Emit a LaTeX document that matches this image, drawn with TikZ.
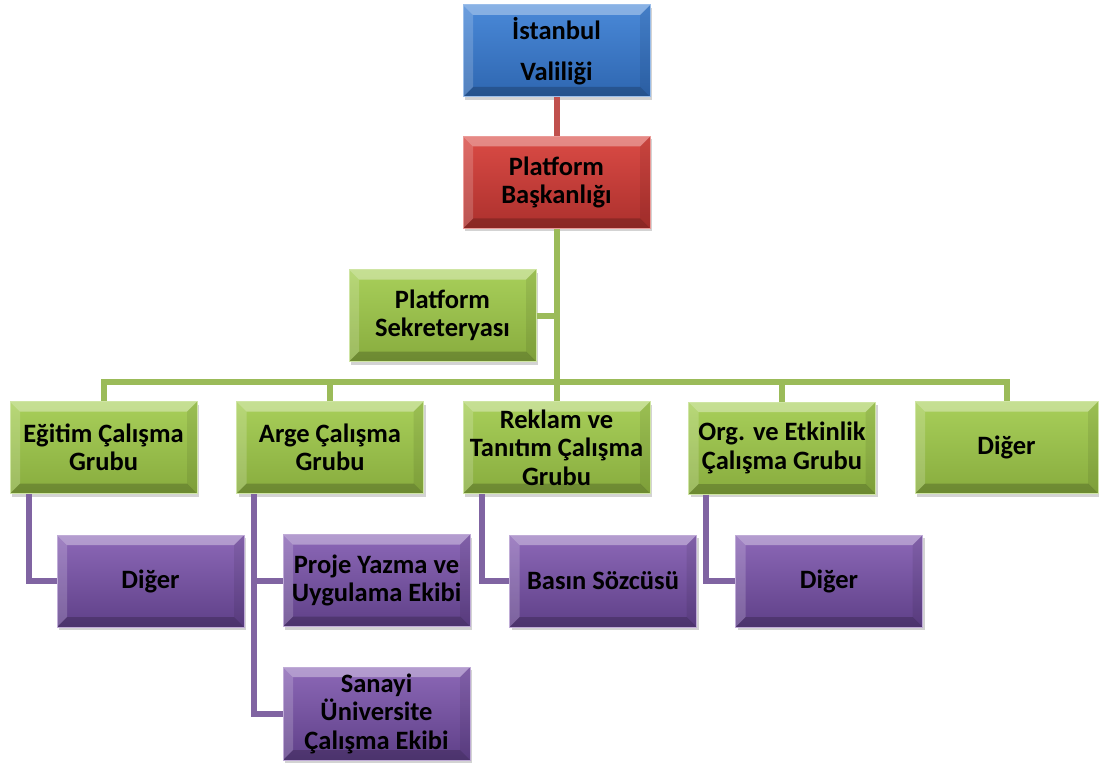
\documentclass[tikz,border=0pt]{standalone}
\usepackage{fontspec}
\setmainfont{Carlito}
\usetikzlibrary{calc,shadows}
\definecolor{blueT}{HTML}{4A89D8}
\definecolor{blueB}{HTML}{2E66B0}
\definecolor{redT}{HTML}{DA4B45}
\definecolor{redB}{HTML}{AC302D}
\definecolor{greenT}{HTML}{A8CF5A}
\definecolor{greenB}{HTML}{88AC3E}
\definecolor{purpleT}{HTML}{8C68B7}
\definecolor{purpleB}{HTML}{5F4088}
\definecolor{redline}{HTML}{C0504D}
\definecolor{greenline}{HTML}{9BBB59}
\definecolor{purpleline}{HTML}{8064A2}
\tikzset{
  bevel/.style={path picture={
      \coordinate (bnw) at (path picture bounding box.north west);
      \coordinate (bne) at (path picture bounding box.north east);
      \coordinate (bsw) at (path picture bounding box.south west);
      \coordinate (bse) at (path picture bounding box.south east);
      \coordinate (inw) at ($(bnw)+(10,10)$);
      \coordinate (ine) at ($(bne)+(-10,10)$);
      \coordinate (isw) at ($(bsw)+(10,-10)$);
      \coordinate (ise) at ($(bse)+(-10,-10)$);
      \fill[white,opacity=.35] (bnw) -- (bne) -- (ine) -- (inw) -- cycle;
      \fill[white,opacity=.18] (bnw) -- (inw) -- (isw) -- (bsw) -- cycle;
      \fill[black,opacity=.08] (bne) -- (ine) -- (ise) -- (bse) -- cycle;
      \fill[black,opacity=.20] (bsw) -- (isw) -- (ise) -- (bse) -- cycle;
    }},
  orgbox/.style={rectangle, minimum width=187pt, minimum height=92pt, inner sep=2pt,
    align=center, text=black, font=\bfseries\fontsize{26.5}{28.5}\selectfont,
    draw=#1T!55!white, line width=1pt, top color=#1T, bottom color=#1B,
    drop shadow={shadow xshift=2pt,shadow yshift=-3pt,opacity=.35}, bevel},
  link/.style={line width=6pt, draw=#1},
}
\begin{document}
\begin{tikzpicture}[x=1pt,y=-1pt]
  \useasboundingbox (0,0) rectangle (1099,767);
  \coordinate (bus) at (556.5,382);
  % boxes
  \node[orgbox=blue] (val) at (556.5,51) {İstanbul\\[12pt]Valiliği};
  \node[orgbox=red] (bask) at (556.5,182.5) {Platform\\Başkanlığı};
  \node[orgbox=green] (sek) at (442.5,315.5) {Platform\\Sekreteryası};
  \node[orgbox=green] (egitim) at (103.5,447.5) {Eğitim Çalışma\\Grubu};
  \node[orgbox=green] (arge) at (330,447.5) {Arge Çalışma\\Grubu};
  \node[orgbox=green] (reklam) at (556.5,447.5) {Reklam ve\\Tanıtım Çalışma\\Grubu};
  \node[orgbox=green] (org) at (782,448) {Org. ve Etkinlik\\Çalışma Grubu};
  \node[orgbox=green, minimum width=183pt] (digerB) at (1006.5,447.5) {Diğer};
  \node[orgbox=purple] (digerE) at (150.5,581) {Diğer};
  \node[orgbox=purple] (proje) at (376.5,580.5) {Proje Yazma ve\\Uygulama Ekibi};
  \node[orgbox=purple, minimum height=93pt] (sanayi) at (376.5,713.5) {Sanayi\\Üniversite\\Çalışma Ekibi};
  \node[orgbox=purple] (basin) at (603,581) {Basın Sözcüsü};
  \node[orgbox=purple] (digerO) at (829,581) {Diğer};
  % lines
  \draw[link=redline] (val.south) -- (bask.north);
  \draw[link=greenline] (bask.south) -- (bus);
  \draw[link=greenline] (sek.east) -- (sek.east -| bus);
  \draw[link=greenline] (egitim.north) -- (egitim.north |- bus) -- (digerB.north |- bus) -- (digerB.north);
  \foreach \g in {arge,reklam,org}
    \draw[link=greenline] (\g.north) -- (\g.north |- bus);
  \coordinate (egitimleg) at ($(egitim.south west)+(19,0)$);
  \coordinate (argeleg) at ($(arge.south west)+(18,0)$);
  \coordinate (reklamleg) at ($(reklam.south west)+(19,0)$);
  \coordinate (orgleg) at ($(org.south west)+(18,0)$);
  \draw[link=purpleline] (egitimleg) |- (digerE.west);
  \draw[link=purpleline] (argeleg) |- (sanayi.west);
  \draw[link=purpleline] (argeleg |- proje.west) -- (proje.west);
  \draw[link=purpleline] (reklamleg) |- (basin.west);
  \draw[link=purpleline] (orgleg) |- (digerO.west);
\end{tikzpicture}
\end{document}
